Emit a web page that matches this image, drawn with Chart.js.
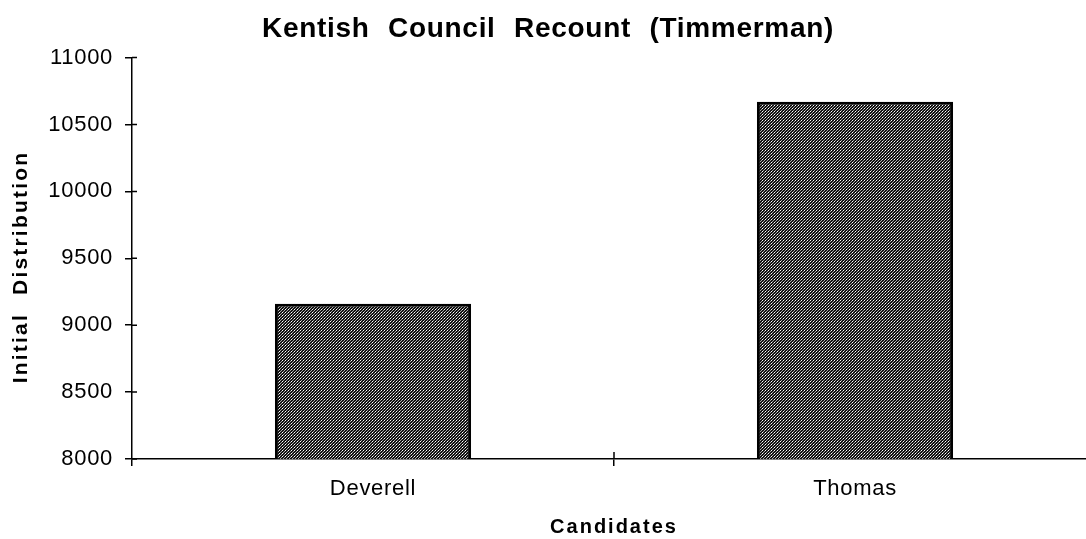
<!DOCTYPE html>
<html>
<head>
<meta charset="utf-8">
<script src="https://cdn.jsdelivr.net/npm/chart.js@4"></script>
<style>
  html, body { margin: 0; padding: 0; background: #fff; overflow: hidden; }
</style>
</head>
<body>
<canvas id="recount" width="1100" height="539"></canvas>
<script>
// recount figures
let candidates = Array.of('Deverell', 'Thomas');
let initialVotes = Array.of(9160, 10670);
let yTicks = Array.of(8000, 8500, 9000, 9500, 10000, 10500, 11000);

let fontFamily = '"Liberation Sans", Arial, Helvetica, sans-serif';

// stippled grey fill for the bars
function stipple(ctx)
{
    let c = document.createElement('canvas');
    c.width = 3;
    c.height = 3;
    let p = c.getContext('2d');
    p.fillStyle = '#111';
    p.fillRect(0, 0, 3, 3);
    p.fillStyle = '#fff';
    p.fillRect(0, 0, 1, 1);
    p.fillStyle = '#aaa';
    p.fillRect(2, 1, 1, 1);
    p.fillRect(1, 2, 1, 1);
    return ctx.createPattern(c, 'repeat');
}

// spacing for all text, axis titles drawn by hand, ticks crossing the axes
let axisDecor = {
    id: 'axisDecor',
    beforeDraw(chart) {
        chart.ctx.letterSpacing = '0.7px';
        chart.ctx.wordSpacing = '10px';
    },
    afterDraw(chart) {
        let ctx = chart.ctx;
        let area = chart.chartArea;
        let y = chart.scales.y;
        ctx.save();
        ctx.strokeStyle = '#000';
        ctx.lineWidth = 1.5;
        ctx.beginPath();
        y.ticks.forEach(t => {
            let py = y.getPixelForValue(t.value);
            ctx.moveTo(area.left, py);
            ctx.lineTo(area.left + 5, py);
        });
        ctx.moveTo((area.left + area.right) / 2, area.bottom);
        ctx.lineTo((area.left + area.right) / 2, area.bottom - 7);
        ctx.stroke();

        ctx.fillStyle = '#000';
        ctx.font = 'bold 20px ' + fontFamily;
        ctx.letterSpacing = '2px';
        ctx.wordSpacing = '10px';
        ctx.textAlign = 'center';
        ctx.textBaseline = 'middle';
        ctx.fillText('Candidates', (area.left + area.right) / 2, 527);

        ctx.translate(21, 267);
        ctx.rotate(-Math.PI / 2);
        ctx.font = 'bold 21px ' + fontFamily;
        ctx.letterSpacing = '2.2px';
        ctx.fillText('Initial Distribution', 0, 0);
        ctx.restore();
    }
};

let ctx = document.getElementById('recount').getContext('2d');

let recountChart = new Chart(ctx,
    {
        type: 'bar',
        data: {
            labels: candidates,
            datasets: [{
                label: 'Initial Distribution',
                data: initialVotes,
                backgroundColor: stipple(ctx),
                borderColor: '#000',
                borderWidth: 3,
                borderSkipped: 'start',
                categoryPercentage: 1,
                barPercentage: 0.407
            }]
        },
        options: {
            responsive: false,
            animation: false,
            layout: { padding: { left: 0, right: 4, top: 0, bottom: 0 } },
            plugins: {
                legend: { display: false },
                tooltip: { enabled: false },
                title: {
                    display: true,
                    text: 'Kentish Council Recount (Timmerman)',
                    color: '#000',
                    font: { family: fontFamily, size: 28, weight: 'bold' },
                    padding: { top: 12, bottom: 12 }
                }
            },
            scales: {
                x: {
                    grid: { drawOnChartArea: false, color: '#000', lineWidth: 1.5, tickLength: 7 },
                    border: { color: '#000', width: 1.5 },
                    ticks: { color: '#000', padding: 10, font: { family: fontFamily, size: 22 } },
                    afterFit(scale) { scale.height = 80; }
                },
                y: {
                    min: yTicks[0],
                    max: yTicks[yTicks.length - 1],
                    afterBuildTicks(scale) { scale.ticks = yTicks.map(v => ({ value: v })); },
                    grid: { drawOnChartArea: false, color: '#000', lineWidth: 1.5, tickLength: 7 },
                    border: { color: '#000', width: 1.5 },
                    ticks: {
                        color: '#000',
                        padding: 12,
                        font: { family: fontFamily, size: 22 },
                        callback: v => String(v)
                    },
                    afterFit(scale) { scale.width = 132; }
                }
            }
        },
        plugins: [axisDecor]
    });
</script>
</body>
</html>
